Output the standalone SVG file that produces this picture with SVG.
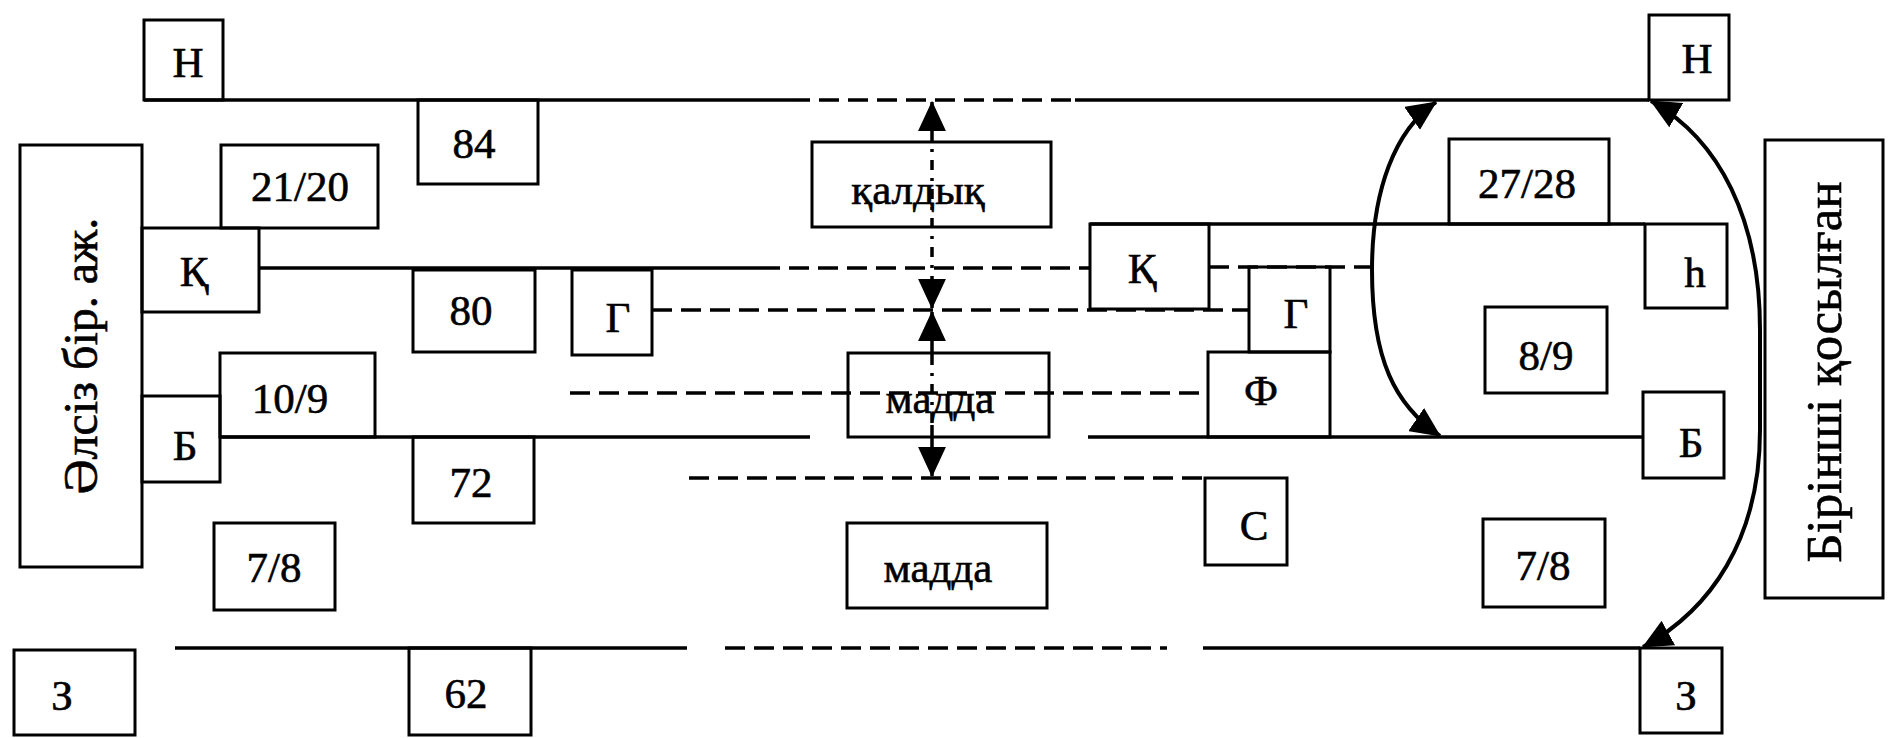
<svg xmlns="http://www.w3.org/2000/svg" width="1896" height="738" viewBox="0 0 1896 738">
<style>
.b{fill:none;stroke:#000;stroke-width:3}
.l{fill:none;stroke:#000;stroke-width:3.5}
.d{fill:none;stroke:#000;stroke-width:3.5;stroke-dasharray:20 9}
.dd{fill:none;stroke:#000;stroke-width:3.5;stroke-dasharray:10 8 3 8}
.c{fill:none;stroke:#000;stroke-width:4}
.t{font-family:"Liberation Serif","Times New Roman",serif;font-size:43px;fill:#000;stroke:#000;stroke-width:0.6;text-anchor:middle}
.r{font-size:48px}
.r2{font-size:51px}
</style>
<defs>
<marker id="ah" markerUnits="userSpaceOnUse" markerWidth="30" markerHeight="28" viewBox="0 0 28 26" refX="27" refY="13" orient="auto-start-reverse">
<path d="M0,0 L28,13 L0,26 z" fill="#000"/>
</marker>
</defs>
<rect width="1896" height="738" fill="#fff"/>
<g id="connectors">
<path class="l" d="M144,100 H790"/>
<path class="d" d="M790,100 H1075"/>
<path class="l" d="M1075,100 H1649"/>
<path class="l" d="M259,268 H760"/>
<path class="d" d="M760,268 H1090"/>
<path class="d" d="M652,310 H1249"/>
<path class="l" d="M1090,224 H1645"/>
<path class="d" d="M1209,267 H1372"/>
<path class="d" d="M570,393 H1208"/>
<path class="l" d="M220,437 H810"/>
<path class="l" d="M1088,437 H1643"/>
<path class="d" d="M689,478 H1205"/>
<path class="l" d="M175,648 H687"/>
<path class="d" d="M725,648 H1167"/>
<path class="l" d="M1203,648 H1640"/>
<path class="dd" d="M932,102 V308" marker-start="url(#ah)" marker-end="url(#ah)"/>
<path class="l" d="M932,312 V355" marker-start="url(#ah)"/>
<path class="dd" d="M932,355 V425"/>
<path class="l" d="M932,425 V476" marker-end="url(#ah)"/>
<path class="c" d="M1436,102 C1395,130 1372,190 1372,270 C1372,360 1395,405 1440,436" marker-start="url(#ah)" marker-end="url(#ah)"/>
<path class="c" d="M1651,101 C1720,140 1760,220 1760,330 L1760,430 C1760,540 1710,610 1643,647" marker-start="url(#ah)" marker-end="url(#ah)"/>
</g>
<g id="n-left-tall"><rect class="b" x="20" y="145" width="122" height="422"/><text class="t r" x="81" y="356" transform="rotate(-90 81 356)" dy="16">Әлсіз бір. аж.</text></g>
<g id="n-H-left"><rect class="b" x="144" y="20" width="79" height="80"/><text class="t" x="188" y="77">Н</text></g>
<g id="n-84"><rect class="b" x="418" y="100" width="120" height="84"/><text class="t" x="474" y="158">84</text></g>
<g id="n-21-20"><rect class="b" x="221" y="145" width="157" height="83"/><text class="t" x="300" y="201">21/20</text></g>
<g id="n-K-left"><rect class="b" x="142" y="228" width="117" height="84"/><text class="t" x="194" y="286">Қ</text></g>
<g id="n-80"><rect class="b" x="413" y="270" width="122" height="82"/><text class="t" x="471" y="325">80</text></g>
<g id="n-G-left"><rect class="b" x="572" y="270" width="80" height="85"/><text class="t" x="618" y="332">Г</text></g>
<g id="n-10-9"><rect class="b" x="220" y="353" width="155" height="84"/><text class="t" x="290" y="413">10/9</text></g>
<g id="n-B-left"><rect class="b" x="142" y="396" width="78" height="86"/><text class="t" x="185" y="460">Б</text></g>
<g id="n-72"><rect class="b" x="413" y="437" width="121" height="86"/><text class="t" x="471" y="497">72</text></g>
<g id="n-78-left"><rect class="b" x="214" y="523" width="121" height="87"/><text class="t" x="274" y="582">7/8</text></g>
<g id="n-3-left"><rect class="b" x="14" y="650" width="121" height="85"/><text class="t" x="62" y="710">З</text></g>
<g id="n-62"><rect class="b" x="409" y="648" width="122" height="87"/><text class="t" x="466" y="708">62</text></g>
<g id="n-kaldyk"><rect class="b" x="812" y="142" width="239" height="85"/><text class="t" x="918" y="204">қалдық</text></g>
<g id="n-madda1"><rect class="b" x="848" y="353" width="201" height="84"/><text class="t" x="940" y="413">мадда</text></g>
<g id="n-madda2"><rect class="b" x="847" y="523" width="200" height="85"/><text class="t" x="938" y="582">мадда</text></g>
<g id="n-K-right"><rect class="b" x="1090" y="224" width="119" height="85"/><text class="t" x="1142" y="283">Қ</text></g>
<g id="n-G-right"><rect class="b" x="1249" y="267" width="81" height="85"/><text class="t" x="1296" y="328">Г</text></g>
<g id="n-F"><rect class="b" x="1208" y="352" width="122" height="85"/><text class="t" x="1261" y="405">Ф</text></g>
<g id="n-S"><rect class="b" x="1205" y="478" width="82" height="87"/><text class="t" x="1254" y="540">С</text></g>
<g id="n-27-28"><rect class="b" x="1449" y="139" width="160" height="85"/><text class="t" x="1527" y="198">27/28</text></g>
<g id="n-H-right"><rect class="b" x="1649" y="15" width="80" height="85"/><text class="t" x="1697" y="73">Н</text></g>
<g id="n-shha"><rect class="b" x="1645" y="224" width="82" height="84"/><text class="t" x="1695" y="287">һ</text></g>
<g id="n-8-9"><rect class="b" x="1485" y="307" width="122" height="86"/><text class="t" x="1546" y="370">8/9</text></g>
<g id="n-B-right"><rect class="b" x="1643" y="392" width="81" height="86"/><text class="t" x="1691" y="457">Б</text></g>
<g id="n-78-right"><rect class="b" x="1483" y="519" width="122" height="88"/><text class="t" x="1543" y="580">7/8</text></g>
<g id="n-3-right"><rect class="b" x="1640" y="648" width="82" height="85"/><text class="t" x="1686" y="710">З</text></g>
<g id="n-right-tall"><rect class="b" x="1765" y="140" width="118" height="458"/><text class="t r2" x="1824" y="372" transform="rotate(-90 1824 372)" dy="17">Бірінші қосылған</text></g>
</svg>
